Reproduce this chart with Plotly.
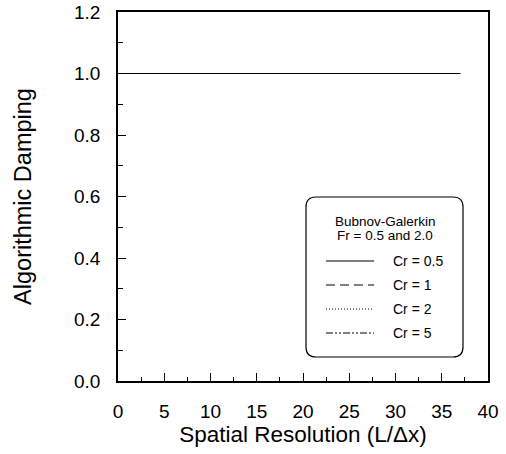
import plotly.graph_objects as go

# ---- data ----
spatial_resolution = [0.5, 1, 2, 4, 6, 8, 10, 12, 14, 16, 18, 20, 22, 24, 26, 28, 30, 32, 34, 36, 37]
damping_cr_05 = [1.0] * 21
damping_cr_1 = [1.0] * 21
damping_cr_2 = [1.0] * 21
damping_cr_5 = [1.0] * 21
series_names = ["Cr = 0.5", "Cr = 1", "Cr = 2", "Cr = 5"]
legend_title = ["Bubnov-Galerkin", "Fr = 0.5 and 2.0"]
x_ticks = [0, 5, 10, 15, 20, 25, 30, 35, 40]
y_ticks = [0.0, 0.2, 0.4, 0.6, 0.8, 1.0, 1.2]

W, H = 506, 454
L, R, T, B = 118, 488, 12, 381  # plot area in pixels
FONT = "Liberation Sans, Arial, Helvetica, sans-serif"
dashes = ["solid", "9px,5px", "1px,2px", "7px,2px,2px,2px,2px,2px"]
series = [damping_cr_05, damping_cr_1, damping_cr_2, damping_cr_5]

fig = go.Figure()
for name, ys, dash in zip(series_names, series, dashes):
    fig.add_trace(go.Scatter(x=spatial_resolution, y=ys, mode="lines", name=name,
                             line=dict(color="black", width=1, dash=dash),
                             showlegend=False))

# pixel -> paper conversion
def px(x):
    return (x - L) / (R - L)

def py(y):
    return (B - y) / (B - T)

shapes = []
annotations = []
# rounded legend box
x0, x1, y0, y1, r = 306, 463, 197, 357, 10
path = (f"M {px(x0 + r)},{py(y0)} L {px(x1 - r)},{py(y0)} Q {px(x1)},{py(y0)} {px(x1)},{py(y0 + r)} "
        f"L {px(x1)},{py(y1 - r)} Q {px(x1)},{py(y1)} {px(x1 - r)},{py(y1)} "
        f"L {px(x0 + r)},{py(y1)} Q {px(x0)},{py(y1)} {px(x0)},{py(y1 - r)} "
        f"L {px(x0)},{py(y0 + r)} Q {px(x0)},{py(y0)} {px(x0 + r)},{py(y0)} Z")
shapes.append(dict(type="path", xref="paper", yref="paper", path=path,
                   line=dict(color="black", width=1.2), fillcolor="white", layer="above"))
for i, t in enumerate(legend_title):
    annotations.append(dict(x=px(385), y=py(221 + 14 * i), xref="paper", yref="paper",
                            text=t, showarrow=False, xanchor="center", yanchor="middle",
                            font=dict(family=FONT, size=13.5, color="black")))
for i, (name, dash) in enumerate(zip(series_names, dashes)):
    yy = 261 + 24 * i
    shapes.append(dict(type="line", xref="paper", yref="paper", x0=px(326), x1=px(374),
                       y0=py(yy), y1=py(yy), line=dict(color="black", width=1, dash=dash),
                       layer="above"))
    annotations.append(dict(x=px(391), y=py(yy), xref="paper", yref="paper", text=name,
                            showarrow=False, xanchor="left", yanchor="middle",
                            font=dict(family=FONT, size=14, color="black")))

axis_common = dict(showline=True, linecolor="black", linewidth=1.5, mirror=True,
                   ticks="inside", tickcolor="black", tickwidth=1, ticklen=8,
                   showgrid=False, zeroline=False, automargin=False,
                   ticklabeloverflow="allow",
                   tickfont=dict(family=FONT, size=19, color="black"))

fig.update_layout(
    width=W, height=H,
    margin=dict(l=L, r=W - R, t=T, b=H - B),
    paper_bgcolor="white", plot_bgcolor="white",
    shapes=shapes, annotations=annotations,
    xaxis=dict(range=[0, 40], tickvals=x_ticks, ticklabelstandoff=12,
               minor=dict(dtick=2.5, tick0=0, ticks="inside", ticklen=4, tickcolor="black"),
               title=dict(text="Spatial Resolution (L/\u0394x)", standoff=3,
                          font=dict(family=FONT, size=22.5, color="black")),
               **axis_common),
    yaxis=dict(range=[0, 1.2], tickvals=y_ticks, tickformat=".1f", ticklabelstandoff=12,
               minor=dict(dtick=0.1, tick0=0, ticks="inside", ticklen=5, tickcolor="black"),
               title=dict(text="Algorithmic Damping", standoff=36,
                          font=dict(family=FONT, size=23.5, color="black")),
               **axis_common),
)

fig.write_html("out.html", config={"displayModeBar": False},
               post_script="document.body.style.margin='0';")
